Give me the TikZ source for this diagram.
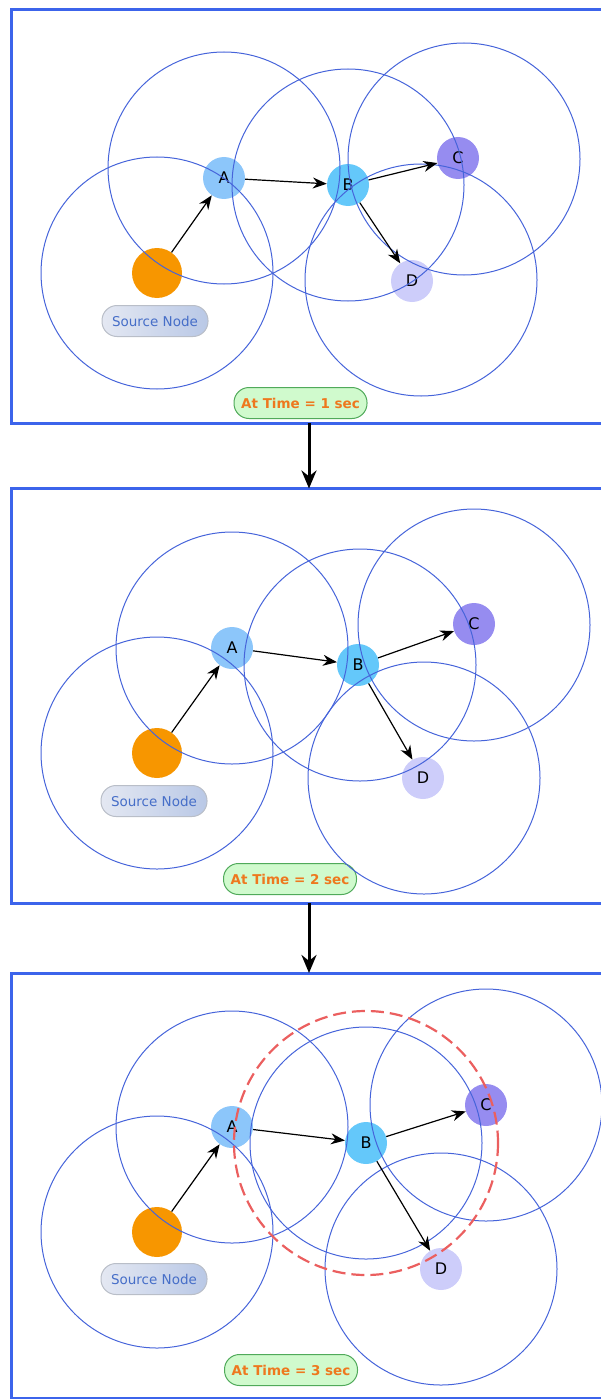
\documentclass[tikz,border=0pt]{standalone}
\usepackage{fontspec}
\setmainfont{DejaVu Sans}
\usepackage{tikz}
\usetikzlibrary{arrows.meta}
\usetikzlibrary{calc}
\tikzset{>={Stealth[length=14pt,width=11pt]}}

\definecolor{frameblue}{RGB}{60,100,235}
\definecolor{rangeblue}{RGB}{70,100,218}
\definecolor{srcorange}{RGB}{247,150,0}
\definecolor{nodeA}{RGB}{140,198,250}
\definecolor{nodeB}{RGB}{100,200,250}
\definecolor{nodeC}{RGB}{150,140,240}
\definecolor{nodeD}{RGB}{205,205,250}
\definecolor{pillgreen}{RGB}{208,250,205}
\definecolor{pilledge}{RGB}{80,170,90}
\definecolor{timeorange}{RGB}{238,120,30}
\definecolor{srctext}{RGB}{70,110,200}
\definecolor{alertred}{RGB}{235,95,95}

\begin{document}
\begin{tikzpicture}[x=1pt,y=-1pt,
  panel/.style={draw=frameblue,line width=3pt,minimum width=592pt,inner sep=0pt,outer sep=0pt},
  source/.style={circle,fill=srcorange,minimum size=50pt,inner sep=0pt},
  relay/.style={circle,minimum size=42pt,inner sep=0pt,font=\fontsize{16}{18}\selectfont},
  reach/.style={draw=rangeblue,line width=1pt},
  hop/.style={->,line width=1.2pt},
  srclabel/.style={draw={rgb,255:red,185;green,190;blue,200},line width=1pt,rounded corners=15pt,
    left color={rgb,255:red,228;green,232;blue,242},right color={rgb,255:red,185;green,200;blue,230},
    minimum width=106pt,minimum height=31pt,text=srctext,font=\fontsize{13.5}{15}\selectfont},
  timelabel/.style={draw=pilledge,fill=pillgreen,line width=1pt,rounded corners=15pt,
    minimum width=133pt,minimum height=31pt,text=timeorange,font=\bfseries\fontsize{13.5}{15}\selectfont},
  flow/.style={-{Stealth[length=18pt,width=15pt]},line width=3pt}]

\useasboundingbox (0,0) rectangle (600,1399);

% frames
\node[panel,minimum height=413pt] (p1) at (307.5,216.5) {};
\node[panel,minimum height=414.5pt] (p2) at (307.5,695.75) {};
\node[panel,minimum height=425.5pt] (p3) at (307.5,1185.75) {};
\coordinate (mid) at (309,0);
\draw[flow] (p1.south -| mid) -- (p2.north -| mid);
\draw[flow] (p2.south -| mid) -- (p3.north -| mid);

% time = 1
\node[source] (s1) at (157,273) {};
\node[relay,fill=nodeA] (a1) at (224,178) {A};
\node[relay,fill=nodeB] (b1) at (348,185) {B};
\node[relay,fill=nodeC] (c1) at (458,158) {C};
\node[relay,fill=nodeD] (d1) at (412,281) {D};
\node[srclabel] (l1) at (155,321) {Source Node};
\node[timelabel] (t1) at (300.5,403) {At Time = 1 sec};

\draw[reach] (s1) circle (116);
\draw[reach] ($(a1)+(0,-10)$) circle (116);
\draw[reach] (b1) circle (116);
\draw[reach] ($(c1)+(6,1)$) circle (116);
\draw[reach] ($(d1)+(9,-1)$) circle (116);

\draw[hop] (s1) -- (a1);
\draw[hop] (a1) -- (b1);
\draw[hop] (b1) -- (c1);
\draw[hop] (b1) -- (d1);

% time = 2
\node[source] (s2) at (157,753) {};
\node[relay,fill=nodeA] (a2) at (232,648) {A};
\node[relay,fill=nodeB] (b2) at (358,665) {B};
\node[relay,fill=nodeC] (c2) at (474,624) {C};
\node[relay,fill=nodeD] (d2) at (423,778) {D};
\node[srclabel] (l2) at (154,801) {Source Node};
\node[timelabel] (t2) at (290,879) {At Time = 2 sec};

\draw[reach] (s2) circle (116);
\draw[reach] (a2) circle (116);
\draw[reach] ($(b2)+(2,0)$) circle (116);
\draw[reach] ($(c2)+(0,1)$) circle (116);
\draw[reach] ($(d2)+(1,0)$) circle (116);

\draw[hop] (s2) -- (a2);
\draw[hop] (a2) -- (b2);
\draw[hop] (b2) -- (c2);
\draw[hop] (b2) -- (d2);

% time = 3
\node[source] (s3) at (157,1232) {};
\node[relay,fill=nodeA] (a3) at (232,1127) {A};
\node[relay,fill=nodeB] (b3) at (366,1143) {B};
\node[relay,fill=nodeC] (c3) at (486,1105) {C};
\node[relay,fill=nodeD] (d3) at (441,1269) {D};
\node[srclabel] (l3) at (154,1279) {Source Node};
\node[timelabel] (t3) at (291,1370) {At Time = 3 sec};

\draw[reach] (s3) circle (116);
\draw[reach] (a3) circle (116);
\draw[reach] (b3) circle (116);
\draw[reach] (c3) circle (116);
\draw[reach] (d3) circle (116);
\draw[alertred,line width=2.2pt,dash pattern=on 13pt off 6pt] (b3) circle (132);

\draw[hop] (s3) -- (a3);
\draw[hop] (a3) -- (b3);
\draw[hop] (b3) -- (c3);
\draw[hop] (b3) -- (d3);
\end{tikzpicture}
\end{document}
